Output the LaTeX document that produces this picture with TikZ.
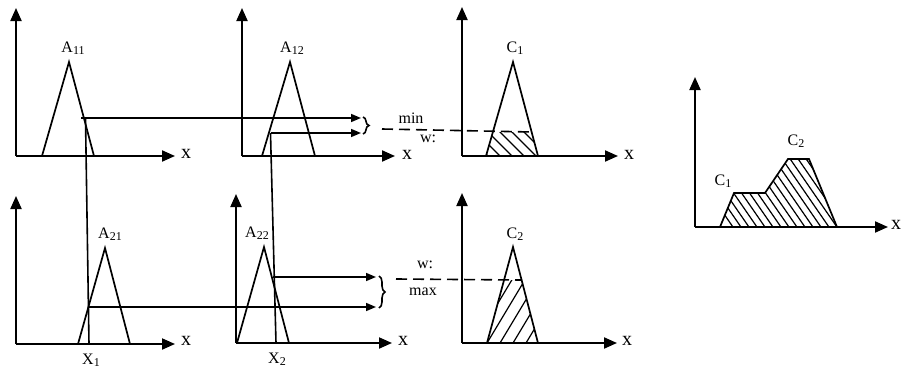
\documentclass[tikz,border=0pt]{standalone}
\usepackage{fontspec}
\setmainfont{Liberation Serif}
\usetikzlibrary{arrows.meta,decorations.pathreplacing}
\newcommand{\mysub}[1]{\raisebox{-0.15em}{\fontsize{12}{13}\selectfont #1}}
\begin{document}
\begin{tikzpicture}[x=1pt,y=-1pt,
  axis/.style={line width=2pt,-{Triangle[length=13pt,width=11pt]}},
  tri/.style={line width=1.7pt,line join=miter},
  conn/.style={line width=1.6pt},
  conarrow/.style={line width=1.6pt,-{Triangle[length=10pt,width=8pt]}},
  dashline/.style={line width=1.6pt,dash pattern=on 11pt off 6pt},
  hatch/.style={line width=1.2pt},
  lab/.style={font=\fontsize{16}{18}\selectfont,inner sep=0pt},
  xlab/.style={font=\fontsize{20}{22}\selectfont,inner sep=0pt},
  wlab/.style={font=\fontsize{16}{18}\selectfont,inner sep=0pt},
  brc/.style={line width=1.6pt,decorate,decoration={brace,amplitude=6pt}}
]
\useasboundingbox (0,0) rectangle (903,372);

% ---------- Panel 1 : A11 ----------
\coordinate (o1) at (16,156);
\coordinate (y1) at (16,8);
\coordinate (e1) at (175,156);
\draw[axis] (o1) -- (y1);
\draw[axis] (o1) -- (e1);
\node[xlab,anchor=west] (xl1) at (181,154) {x};
\coordinate (a11l) at (42,156);
\coordinate (a11t) at (69,62);
\coordinate (a11r) at (94,156);
\draw[tri] (a11l) -- (a11t) -- (a11r);
\node[lab] (A11) at (73,48) {A\mysub{11}};

% ---------- Panel 2 : A12 ----------
\coordinate (o2) at (242,156);
\coordinate (y2) at (242,8);
\coordinate (e2) at (395,156);
\draw[axis] (o2) -- (y2);
\draw[axis] (o2) -- (e2);
\node[xlab,anchor=west] (xl2) at (402,155) {x};
\coordinate (a12l) at (262,156);
\coordinate (a12t) at (290,62);
\coordinate (a12r) at (315,156);
\draw[tri] (a12l) -- (a12t) -- (a12r);
\node[lab] (A12) at (292,48) {A\mysub{12}};

% ---------- Panel 3 : C1 ----------
\coordinate (o3) at (462,156);
\coordinate (y3) at (462,7);
\coordinate (e3) at (618,156);
\draw[axis] (o3) -- (y3);
\draw[axis] (o3) -- (e3);
\node[xlab,anchor=west] (xl3) at (624,155) {x};
\coordinate (c1l) at (486,156);
\coordinate (c1t) at (513,62);
\coordinate (c1r) at (538,156);
\begin{scope}
  \clip (486,156) -- (492.9,132) -- (531.6,132) -- (538,156) -- cycle;
  \foreach \s in {440,452,...,560} \draw[hatch] (\s,120) -- (\s+40,160);
\end{scope}
\draw[tri] (c1l) -- (c1t) -- (c1r);
\node[lab] (C1a) at (515,48) {C\mysub{1}};

% ---------- Panel 4 : A21 ----------
\coordinate (o4) at (16,344);
\coordinate (y4) at (16,196);
\coordinate (e4) at (175,344);
\draw[axis] (o4) -- (y4);
\draw[axis] (o4) -- (e4);
\node[xlab,anchor=west] (xl4) at (181,341) {x};
\coordinate (a21l) at (78,344);
\coordinate (a21t) at (105,248);
\coordinate (a21r) at (130,344);
\draw[tri] (a21l) -- (a21t) -- (a21r);
\node[lab] (A21) at (110,234) {A\mysub{21}};
\node[lab] (X1) at (91,360) {X\mysub{1}};

% ---------- Panel 5 : A22 ----------
\coordinate (o5) at (236,343);
\coordinate (y5) at (236,194);
\coordinate (e5) at (392,343);
\draw[axis] (o5) -- (y5);
\draw[axis] (o5) -- (e5);
\node[xlab,anchor=west] (xl5) at (398,341) {x};
\coordinate (a22l) at (237,343);
\coordinate (a22t) at (264,247);
\coordinate (a22r) at (289,343);
\draw[tri] (a22l) -- (a22t) -- (a22r);
\node[lab] (A22) at (257,233) {A\mysub{22}};
\node[lab] (X2) at (277,359) {X\mysub{2}};

% ---------- Panel 6 : C2 ----------
\coordinate (o6) at (462,343);
\coordinate (y6) at (462,193);
\coordinate (e6) at (617,343);
\draw[axis] (o6) -- (y6);
\draw[axis] (o6) -- (e6);
\node[xlab,anchor=west] (xl6) at (622,341) {x};
\coordinate (c2l) at (487,343);
\coordinate (c2t) at (513,247);
\coordinate (c2r) at (538,343);
\begin{scope}
  \clip (487,343) -- (504,280) -- (521.6,280) -- (538,343) -- cycle;
  \foreach \s in {474,487,...,560} \draw[hatch] (\s,343) -- (\s+42,273);
\end{scope}
\draw[tri] (c2l) -- (c2t) -- (c2r);
\node[lab] (C2a) at (515,234) {C\mysub{2}};

% ---------- Panel 7 : aggregated ----------
\coordinate (o7) at (695,227);
\coordinate (y7) at (695,77);
\coordinate (e7) at (888,227);
\draw[axis] (o7) -- (y7);
\draw[axis] (o7) -- (e7);
\node[xlab,anchor=west] (xl7) at (891,225) {x};
\begin{scope}
  \clip (720,227) -- (734,193) -- (765,193) -- (788,159) -- (809,159) -- (837,227) -- cycle;
  \foreach \s in {680,688,...,840} \draw[hatch] (\s,150) -- (\s+55,230);
\end{scope}
\draw[tri] (720,227) -- (734,193) -- (765,193) -- (788,159) -- (809,159) -- (837,227);
\node[lab] (C1b) at (723,181) {C\mysub{1}};
\node[lab] (C2b) at (796,141) {C\mysub{2}};

% ---------- connectors ----------
\coordinate (p1) at (85.5,118);
\coordinate (q1) at (89,344);
\coordinate (p2) at (270.5,133);
\coordinate (q2) at (276,343);
\draw[conn] (p1) -- (q1);
\draw[conn] (p2) -- (q2);
\coordinate (h1s) at (81,118);
\coordinate (h1e) at (361,118);
\coordinate (h2e) at (361,133);
\draw[conarrow] (h1s) -- (h1e);
\draw[conarrow] (p2) -- (h2e);
\coordinate (h3s) at (273,277);
\coordinate (h3e) at (376,277);
\coordinate (h4s) at (89,307);
\coordinate (h4e) at (376,307);
\draw[conarrow] (h3s) -- (h3e);
\draw[conarrow] (h4s) -- (h4e);

% braces
\coordinate (b1t) at (363,117);
\coordinate (b1b) at (363,134);
\draw[brc] (b1t) -- (b1b);
\coordinate (b2t) at (379,276);
\coordinate (b2b) at (379,308);
\draw[brc] (b2t) -- (b2b);

% dashed lines
\coordinate (d1s) at (382,129);
\coordinate (d1e) at (531.6,132);
\draw[dashline] (d1s) -- (d1e);
\coordinate (d2s) at (396,279);
\coordinate (d2e) at (522,280);
\draw[dashline] (d2s) -- (d2e);

\node[wlab] (min) at (411,118) {min};
\node[wlab] (w1) at (428,139) {w:};
\node[wlab] (w2) at (425,265) {w:};
\node[wlab] (max) at (423,292) {max};
\end{tikzpicture}
\end{document}
